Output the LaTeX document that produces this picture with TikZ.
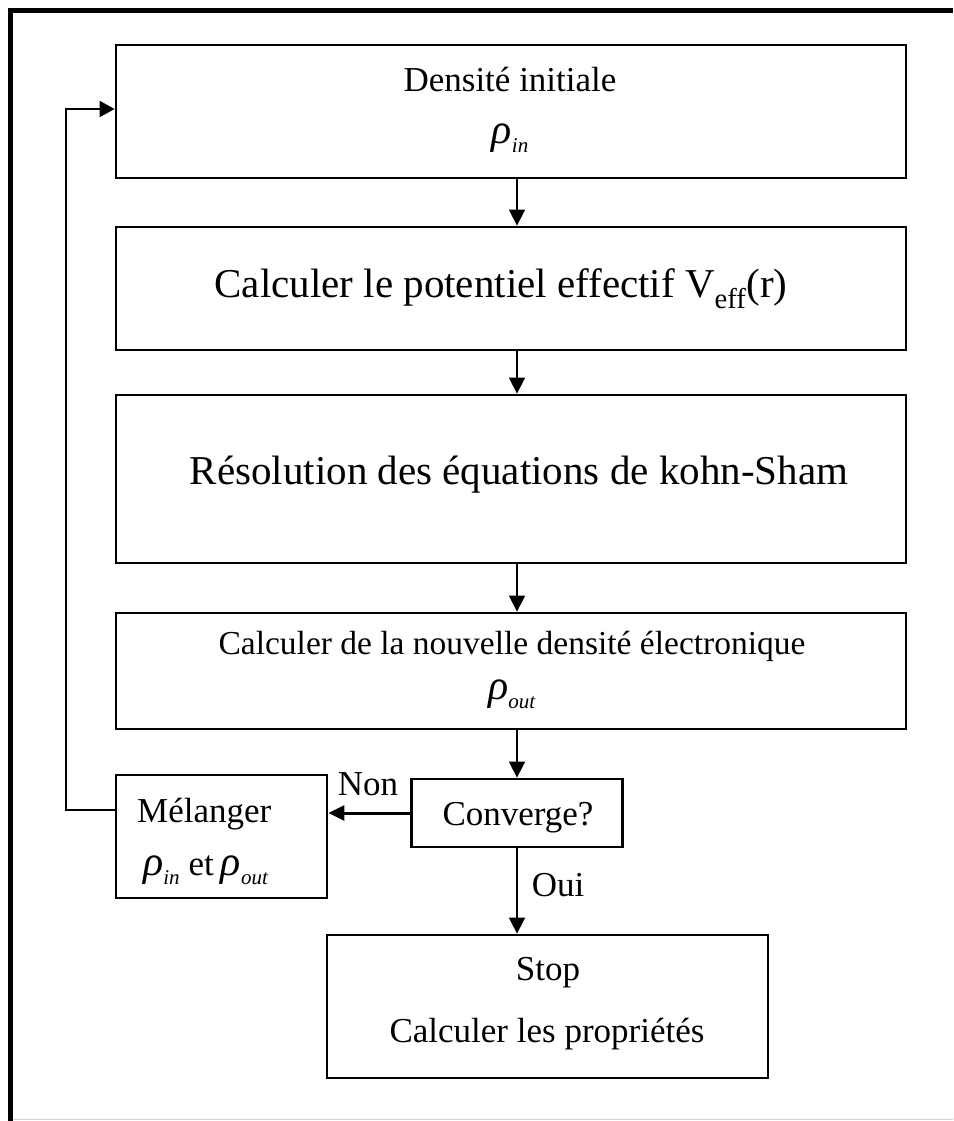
\documentclass[tikz,border=0pt]{standalone}
\usepackage{fontspec}
\setmainfont{Liberation Serif}
\usetikzlibrary{arrows.meta,calc}

% rho with a small italic subscript, as an equation editor sets it
\newcommand{\rhosub}[1]{\textit{\fontsize{42}{42}\selectfont ρ}\raisebox{-0.28em}{\textit{\fontsize{21}{21}\selectfont #1}}}

\tikzset{
  box/.style={draw=black, line width=2.8pt, rectangle, inner sep=0pt},
  txt/.style={inner sep=0pt, anchor=base, font=\fontsize{35}{40}\selectfont},
  bigtxt/.style={txt, font=\fontsize{41}{46}\selectfont},
  flow/.style={line width=1.6pt, -{Triangle[length=16pt,width=16pt]}},
  thickflow/.style={line width=3pt, -{Triangle[length=16pt,width=15pt]}},
  loopline/.style={line width=2pt, -{Triangle[length=15pt,width=16pt]}},
}

\begin{document}
\begin{tikzpicture}[x=1pt,y=-1pt]
\useasboundingbox (0,0) rectangle (953,1121);
\fill[white] (0,0) rectangle (953,1121);

% outer frame
\draw[line width=5pt] (10.5,1121) -- (10.5,10.5) -- (953,10.5);
\draw[line width=1.5pt, black!18] (13,1119.5) -- (953,1119.5);

% boxes
\node[box, minimum width=790, minimum height=133] (b1) at (511,111.5) {};
\node[box, minimum width=790, minimum height=123] (b2) at (511,288.5) {};
\node[box, minimum width=790, minimum height=168] (b3) at (511,479) {};
\node[box, minimum width=790, minimum height=116] (b4) at (511,671) {};
\node[box, minimum width=211, minimum height=68] (cv) at (517,813) {};
\node[box, minimum width=211, minimum height=123] (mx) at (221.5,836.5) {};
\node[box, minimum width=441, minimum height=143] (st) at (547.5,1006.5) {};

% texts
\node[txt] (t1a) at (510,92) {Densité initiale};
\node[txt] (t1b) at (510,143) {\rhosub{in}};
\node[bigtxt] (t2) at (501,297) {Calculer le potentiel effectif V\textsubscript{eff}(r)};
\node[bigtxt] (t3) at (519,484) {Résolution des équations de kohn-Sham};
\node[txt, font=\fontsize{33.5}{40}\selectfont] (t4a) at (512,654) {Calculer de la nouvelle densité électronique};
\node[txt] (t4b) at (512,699) {\rhosub{out}};
\node[txt] (tcv) at (518,825) {Converge?};
\node[txt, anchor=base west] (tmxa) at (137,822) {Mélanger};
\node[txt, anchor=base west] (tmxb) at (143,875) {\rhosub{in}\hspace{9pt}et\hspace{7pt}\rhosub{out}};
\node[txt] (tsa) at (548,980) {Stop};
\node[txt] (tsb) at (547,1042) {Calculer les propriétés};
\node[txt] (lnon) at (368,795) {Non};
\node[txt] (loui) at (558,896) {Oui};

% connectors
\draw[flow] (b1.south -| cv.south) -- (b2.north -| cv.south);
\draw[flow] (b2.south -| cv.south) -- (b3.north -| cv.south);
\draw[flow] (b3.south -| cv.south) -- (b4.north -| cv.south);
\draw[flow] (b4.south -| cv.south) -- (cv.north);
\draw[flow] (cv.south) -- (st.north -| cv.south);
\draw[thickflow] (cv.west) -- (cv.west -| mx.east);
\coordinate (lp) at (66,810);
\draw[loopline] (mx.west |- lp) -- (lp) -- (lp |- 0,109) -- (b1.west |- 0,109);
\end{tikzpicture}
\end{document}
